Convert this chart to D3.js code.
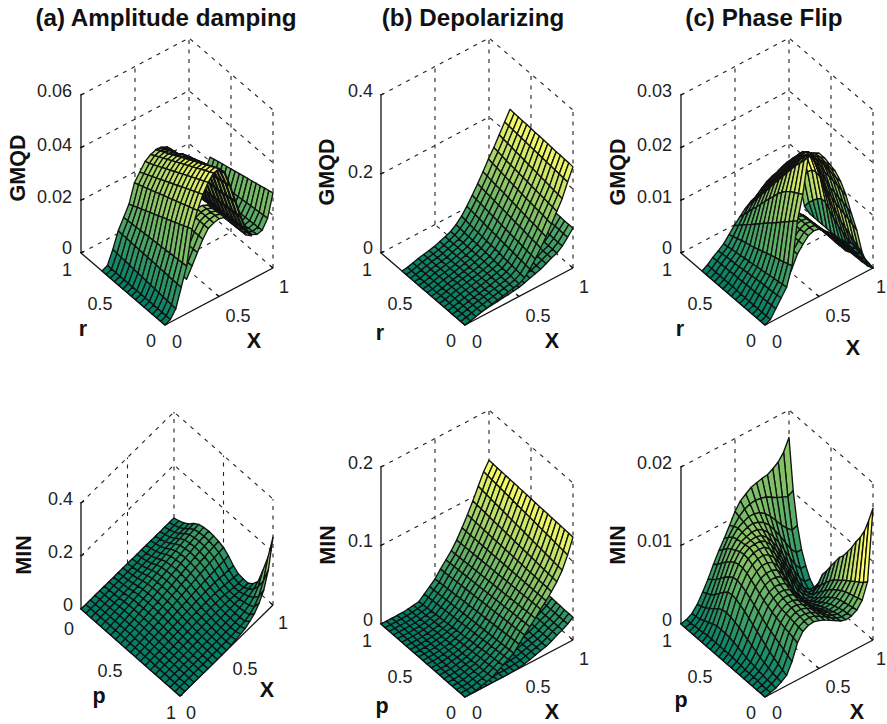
<!DOCTYPE html>
<html>
<head>
<meta charset="utf-8">
<script src="https://cdnjs.cloudflare.com/ajax/libs/d3/7.8.5/d3.min.js"></script>
<style>
  html, body { margin: 0; background: #fff; }
  text { font-family: "Liberation Sans", Arial, sans-serif; fill: #222; }
  .tick { font-size: 18px; }
  .name { font-size: 21.5px; font-weight: bold; fill: #111; }
  .title { font-size: 24.2px; font-weight: bold; fill: #111; }
</style>
</head>
<body>
<svg id="chart" width="887" height="724"></svg>
<script>
// values, rows run along r (or p), columns along X
const xValues = [0,.05,.1,.15,.2,.25,.3,.35,.4,.45,.5,.55,.6,.65,.7,.75,.8,.85,.9,.95,1];
const rValues = [0,.05,.1,.15,.2,.25,.3,.35,.4,.45,.5,.55,.6,.65,.7,.75];
const pValues = [0,.05,.1,.15,.2,.25,.3,.35,.4,.45,.5,.55,.6,.65,.7,.75,.8,.85,.9,.95,1];

const gmqdAmplitude = [
[0,.001,.004,.011,.018,.031,.037,.042,.0455,.048,.0485,.046,.04,.033,.026,.02,.017,.016,.0165,.02,.0285],
[0,.001,.0041,.0111,.0179,.0303,.0363,.0412,.0446,.047,.0476,.0453,.0396,.0327,.0258,.0199,.0168,.0158,.0163,.0198,.028],
[0,.001,.0043,.0111,.0177,.0295,.0357,.0404,.0438,.0462,.0467,.0447,.0392,.0323,.0256,.0197,.0166,.0156,.0162,.0196,.0276],
[0,.001,.0044,.0112,.0176,.0288,.035,.0396,.0429,.0453,.0458,.044,.0388,.032,.0254,.0196,.0164,.0154,.016,.0194,.0271],
[0,.001,.0045,.0113,.0175,.0281,.0343,.0388,.0421,.0444,.0449,.0433,.0384,.0317,.0252,.0195,.0162,.0152,.0159,.0192,.0267],
[0,.001,.0047,.0113,.0173,.0273,.0337,.038,.0412,.0435,.044,.0427,.038,.0317,.025,.0193,.016,.015,.0158,.019,.0262],
[0,.001,.0048,.0114,.0172,.0266,.033,.0372,.0404,.0426,.0432,.042,.0376,.0314,.0248,.0192,.0158,.0148,.0156,.0188,.0258],
[0,.001,.0049,.0115,.0171,.0259,.0323,.0364,.0395,.0417,.0423,.0413,.0372,.0311,.0246,.0191,.0156,.0146,.0155,.0186,.0253],
[0,.001,.0051,.0115,.0169,.0251,.0317,.0356,.0387,.0408,.0414,.0407,.0368,.0309,.0244,.0189,.0154,.0144,.0153,.0184,.0249],
[0,.001,.0052,.0116,.0168,.0244,.031,.0348,.0378,.0399,.0405,.04,.0364,.0306,.0242,.0188,.0152,.0142,.0152,.0182,.0244],
[0,.001,.0053,.0117,.0167,.0237,.0303,.034,.037,.039,.0396,.0393,.036,.0303,.024,.0187,.015,.014,.015,.018,.024],
[0,.001,.0055,.0117,.0165,.0229,.0297,.0332,.0361,.0381,.0387,.0379,.0356,.03,.0238,.0185,.0148,.0138,.0149,.0178,.0235],
[0,.001,.0056,.0118,.0164,.0222,.029,.0324,.0353,.0372,.0378,.0372,.0352,.0298,.0236,.0184,.0146,.0136,.0147,.0176,.0231],
[0,.001,.0057,.0119,.0163,.0215,.0283,.0316,.0344,.0363,.037,.0367,.0348,.0295,.0234,.0183,.0144,.0134,.0144,.0174,.0226],
[0,.001,.0059,.0119,.0161,.0207,.0277,.0308,.0336,.0354,.0361,.0358,.0344,.0292,.0232,.0181,.0142,.0132,.0142,.0172,.0221],
[0,.001,.006,.012,.016,.02,.027,.03,.033,.0345,.0352,.035,.034,.029,.023,.018,.014,.013,.014,.017,.0216]
];
const gmqdAmplitudeLow = [
[0,.001,.004,.01,.013,.017,.021,.025,.028,.029,.0295,.029,.027,.024,.021,.018,.0165,.016,.0163,.02,.0285],
[0,.001,.004,.01,.013,.017,.021,.025,.028,.029,.0294,.0288,.0268,.0238,.0208,.0179,.0164,.0158,.0162,.0198,.028],
[0,.001,.004,.01,.013,.017,.021,.025,.028,.029,.0293,.0286,.0266,.0236,.0206,.0178,.0163,.0156,.016,.0196,.0276],
[0,.001,.004,.01,.013,.017,.021,.025,.028,.029,.0292,.0284,.0264,.0234,.0204,.0177,.0162,.0154,.016,.0194,.0271],
[0,.001,.004,.01,.013,.017,.021,.025,.028,.029,.0291,.0282,.0262,.0232,.0202,.0176,.0161,.0152,.0159,.0192,.0267]
];
const gmqdDepolarizing = [
[0,.003,.007,.011,.014,.017,.02,.023,.026,.029,.032,.04,.055,.073,.094,.115,.14,.165,.19,.225,.256],
[0,.003,.007,.011,.014,.017,.02,.023,.026,.029,.033,.041,.056,.075,.096,.117,.142,.167,.192,.226,.257],
[0,.003,.007,.011,.014,.017,.02,.023,.026,.03,.034,.043,.058,.076,.097,.119,.144,.168,.193,.227,.257],
[0,.003,.007,.011,.014,.017,.02,.023,.027,.03,.035,.044,.059,.078,.099,.121,.146,.17,.195,.228,.258],
[0,.003,.007,.011,.014,.017,.02,.023,.027,.031,.035,.045,.061,.08,.101,.122,.147,.171,.197,.229,.258],
[0,.003,.007,.011,.014,.017,.02,.023,.027,.031,.036,.046,.062,.081,.103,.124,.149,.173,.198,.23,.259],
[0,.003,.007,.011,.014,.017,.02,.023,.027,.031,.037,.048,.064,.083,.104,.126,.15,.174,.2,.231,.26],
[0,.003,.007,.011,.014,.017,.02,.023,.027,.032,.038,.049,.065,.085,.106,.128,.152,.176,.202,.232,.26],
[0,.002,.006,.01,.013,.016,.02,.023,.028,.032,.039,.05,.067,.086,.108,.13,.154,.178,.203,.233,.261],
[0,.002,.006,.01,.013,.016,.02,.024,.028,.033,.04,.051,.068,.088,.11,.132,.156,.179,.205,.234,.261],
[0,.002,.006,.01,.013,.016,.019,.024,.028,.033,.041,.053,.07,.09,.111,.134,.158,.181,.207,.235,.262],
[0,.002,.006,.01,.013,.016,.019,.024,.028,.033,.042,.054,.071,.091,.113,.136,.16,.182,.208,.236,.263],
[0,.002,.006,.01,.013,.016,.019,.024,.029,.034,.042,.055,.073,.093,.115,.137,.162,.184,.21,.237,.263],
[0,.002,.006,.01,.013,.016,.019,.024,.029,.034,.043,.056,.074,.095,.116,.139,.164,.186,.212,.238,.264],
[0,.002,.006,.01,.013,.016,.019,.024,.029,.035,.044,.058,.076,.096,.118,.141,.166,.188,.213,.239,.264],
[0,.002,.006,.01,.013,.016,.019,.024,.029,.035,.045,.059,.077,.098,.12,.143,.168,.19,.215,.24,.265]
];
const gmqdDepolarizingLow = [
[0,.003,.007,.011,.013,.015,.016,.018,.019,.021,.023,.027,.032,.036,.04,.047,.054,.059,.07,.085,.101],
[0,.003,.007,.011,.013,.015,.016,.018,.019,.021,.023,.027,.032,.036,.04,.047,.054,.06,.07,.085,.101],
[0,.003,.007,.011,.013,.015,.016,.018,.02,.022,.024,.027,.032,.037,.041,.047,.054,.06,.071,.086,.101],
[0,.003,.007,.011,.013,.015,.017,.018,.02,.022,.024,.028,.032,.037,.041,.048,.055,.06,.071,.086,.102],
[0,.003,.007,.011,.013,.015,.017,.018,.02,.022,.024,.028,.033,.037,.041,.048,.055,.061,.072,.086,.102]
];
const gmqdPhase = [
[0,.0005,.002,.0035,.005,.0085,.0165,.021,.0275,.0278,.0272,.0258,.024,.0222,.0197,.0165,.0125,.0088,.004,.0012,0],
[0,.0005,.002,.0034,.0049,.0082,.0158,.0205,.0262,.0268,.0265,.0253,.0237,.022,.0197,.0168,.013,.0092,.0045,.0016,0],
[0,.0005,.0019,.0033,.0047,.0079,.015,.02,.025,.0257,.0256,.0248,.0234,.0218,.0198,.017,.0133,.0096,.005,.0019,0],
[0,.0005,.0019,.0032,.0046,.0076,.0143,.0195,.0239,.0246,.0247,.0242,.023,.0217,.0199,.0172,.0135,.0099,.0055,.0023,0],
[0,.0005,.0019,.0032,.0045,.0074,.0135,.0188,.0225,.0233,.0236,.0234,.0228,.0218,.0202,.0174,.0138,.0102,.006,.0026,0],
[0,.0005,.0018,.0031,.0043,.0071,.0128,.018,.0212,.0218,.0222,.0224,.0224,.022,.0205,.0175,.014,.0105,.0065,.003,0],
[0,.0005,.0018,.003,.0042,.0068,.012,.017,.0198,.0205,.021,.0214,.0216,.0216,.0205,.018,.0147,.011,.0072,.0034,0],
[0,.0005,.0018,.0029,.0041,.0065,.0113,.0158,.0184,.0191,.0197,.0203,.0207,.021,.0203,.0184,.0153,.0116,.0079,.0038,0],
[0,.0006,.0017,.0028,.0039,.0062,.0106,.0147,.0171,.0177,.0184,.0191,.0197,.02,.0198,.0186,.016,.0125,.0088,.0045,0],
[0,.0006,.0017,.0027,.0038,.0059,.0098,.0135,.0157,.0164,.0171,.0178,.0184,.019,.0192,.0186,.0165,.0135,.0098,.0053,0],
[0,.0006,.0017,.0026,.0037,.0056,.0091,.0123,.0143,.015,.0157,.0163,.0168,.0175,.018,.0178,.0169,.015,.0115,.0062,0],
[0,.0006,.0016,.0025,.0035,.0054,.0083,.0111,.013,.0136,.0143,.0148,.0153,.016,.0165,.0168,.0165,.0152,.0118,.0062,0],
[0,.0006,.0016,.0025,.0034,.0051,.0076,.01,.0116,.0123,.013,.0136,.014,.0147,.0152,.0156,.0156,.0148,.0115,.0055,0],
[0,.0006,.0016,.0024,.0033,.0048,.0069,.0088,.0102,.0109,.0118,.0124,.0128,.0135,.014,.0144,.0146,.0138,.0105,.0045,0],
[0,.0006,.0015,.0023,.0031,.0045,.0061,.0076,.0089,.0096,.0105,.0112,.0117,.0122,.0128,.0132,.0134,.0122,.009,.0035,0],
[0,.0006,.0015,.0022,.003,.0042,.0054,.0065,.0075,.0083,.0088,.0097,.0105,.011,.0113,.0118,.012,.0108,.0075,.002,0]
];
const gmqdPhaseLow = [
[0,.0005,.002,.0035,.006,.008,.0102,.0115,.0126,.013,.0128,.0117,.0103,.0089,.0074,.006,.0051,.0037,.0023,.001,0],
[0,.0005,.002,.0035,.006,.008,.0102,.0115,.0126,.013,.0128,.0117,.0103,.0089,.0074,.0061,.0051,.0037,.0024,.0011,.0002],
[0,.0005,.002,.0035,.006,.008,.0102,.0115,.0125,.013,.0128,.0117,.0103,.0089,.0075,.0061,.0052,.0038,.0025,.0013,.0004],
[0,.0005,.002,.0035,.006,.008,.0102,.0115,.0125,.0129,.0127,.0116,.0102,.0089,.0075,.0062,.0052,.0039,.0026,.0015,.0007],
[0,.0005,.002,.0035,.006,.008,.0102,.0115,.0125,.0129,.0126,.0116,.0102,.0088,.0075,.0062,.0053,.004,.0028,.0017,.001],
[0,.0005,.002,.0035,.006,.008,.0101,.0114,.0124,.0128,.0125,.0115,.0101,.0088,.0075,.0063,.0054,.0042,.003,.002,.0013]
];

const minAmplitude = [
[0,0,0,0,0,0,0,0,0,0,0,0,0,0,0,0,0,0,0,0,0],
[0,0,.0003,.0005,.0008,.001,.0013,.0016,.0019,.0023,.0026,.003,.0034,.0038,.0042,.0046,.0049,.0052,.0055,.0058,.006],
[0,.0003,.0007,.0013,.0018,.0024,.0031,.0038,.0045,.0053,.0062,.007,.008,.0088,.0098,.0106,.0115,.0122,.0129,.0134,.014],
[0,.0005,.0014,.0024,.0035,.0046,.0059,.0073,.0086,.0103,.0119,.0135,.0154,.017,.0189,.0205,.0221,.0235,.0248,.0259,.027],
[0,.0009,.0023,.0041,.0059,.0077,.0099,.0122,.0144,.0171,.0198,.0225,.0257,.0284,.0315,.0342,.0369,.0392,.0414,.0432,.045],
[0,.0012,.0029,.0052,.0075,.0099,.0128,.0157,.0186,.022,.0255,.029,.0331,.0365,.0406,.0441,.0476,.0505,.0534,.0557,.058],
[0,.0013,.0032,.0057,.0082,.0107,.0139,.017,.0202,.0239,.0277,.0315,.0359,.0397,.0441,.0479,.0517,.0548,.058,.0605,.063],
[0,.0013,.0033,.0059,.0086,.0112,.0145,.0178,.0211,.0251,.029,.033,.0376,.0416,.0462,.0502,.0541,.0574,.0607,.0634,.066],
[0,.0013,.0032,.0058,.0083,.0109,.0141,.0173,.0205,.0243,.0282,.032,.0365,.0403,.0448,.0486,.0525,.0557,.0589,.0614,.064],
[0,.0012,.003,.0054,.0078,.0102,.0132,.0162,.0192,.0228,.0264,.03,.0342,.0378,.042,.0456,.0492,.0522,.0552,.0576,.06],
[0,.0012,.0028,.005,.0072,.0094,.0121,.0148,.0172,.0203,.0233,.0265,.03,.033,.0365,.0395,.0425,.0455,.048,.0505,.053],
[0,.001,.0024,.0042,.006,.0078,.01,.0122,.0142,.0167,.019,.0213,.024,.0262,.0285,.03,.0315,.033,.0345,.036,.038],
[0,.0008,.002,.0035,.005,.0063,.0081,.01,.0115,.0135,.0155,.0172,.019,.0205,.0215,.0222,.0222,.021,.0195,.018,.017],
[0,.0006,.0015,.0027,.0038,.005,.0063,.0077,.009,.0105,.012,.013,.014,.0148,.0152,.0148,.013,.011,.008,.005,.003],
[0,.0004,.001,.002,.0028,.0037,.0047,.0058,.0068,.0078,.0088,.0098,.0105,.011,.0112,.0105,.0085,.006,.0032,.001,0],
[0,.0003,.0007,.0014,.002,.0027,.0034,.0042,.005,.0057,.0064,.007,.0075,.0078,.0078,.0072,.0062,.0048,.003,.0012,.0002],
[0,.0002,.0004,.0009,.0013,.0018,.0023,.0028,.0033,.0038,.0042,.0047,.005,.0054,.0058,.0062,.0068,.0078,.0095,.012,.015],
[0,.0001,.0002,.0005,.0008,.0011,.0014,.0018,.0021,.0024,.0027,.003,.0034,.004,.0048,.006,.0085,.012,.018,.027,.04],
[0,0,.0001,.0002,.0004,.0006,.0008,.001,.0012,.0014,.0016,.002,.0027,.0035,.0048,.007,.011,.018,.03,.055,.1],
[0,0,0,.0001,.0002,.0003,.0004,.0005,.0006,.0008,.001,.0015,.0024,.0038,.0056,.0085,.015,.028,.05,.09,.165],
[0,0,0,0,0,0,0,0,0,0,.0005,.003,.006,.01,.014,.024,.036,.058,.09,.15,.256]
];
const minDepolarizing = [
[0,.0005,.001,.003,.005,.007,.011,.015,.019,.023,.031,.039,.046,.053,.061,.068,.076,.085,.096,.112,.131],
[0,.0005,.001,.0029,.0048,.0068,.0105,.0144,.0185,.0227,.0305,.0386,.0456,.0527,.0608,.068,.0767,.0857,.0967,.1127,.1313],
[0,.0005,.0009,.0027,.0045,.0064,.0101,.0138,.018,.0222,.03,.0381,.0452,.0523,.0605,.068,.0765,.086,.0974,.1133,.1315],
[0,.0004,.0009,.0026,.0043,.0061,.0096,.0132,.0175,.0219,.0295,.0377,.0448,.052,.0603,.068,.0768,.0864,.0981,.1139,.1318],
[0,.0004,.0008,.0024,.0041,.0058,.0092,.0126,.017,.0214,.029,.0372,.0444,.0516,.06,.068,.077,.0868,.0988,.1146,.132],
[0,.0004,.0008,.0023,.0038,.0055,.0087,.012,.0165,.021,.0285,.0368,.044,.0513,.0598,.068,.0773,.0875,.0995,.1153,.1323],
[0,.0004,.0007,.0021,.0036,.0052,.0083,.0114,.016,.0205,.028,.0363,.0436,.0509,.0595,.068,.0775,.088,.1002,.116,.1325],
[0,.0003,.0007,.002,.0034,.0049,.0078,.0108,.0155,.0201,.0275,.0359,.0432,.0506,.0593,.068,.0778,.0885,.1009,.1166,.1328],
[0,.0003,.0006,.0018,.0031,.0046,.0074,.0102,.015,.0198,.027,.0354,.0428,.0503,.059,.068,.078,.089,.1016,.1173,.133],
[0,.0003,.0006,.0017,.0029,.0043,.0069,.0096,.0145,.0193,.0265,.035,.0424,.0499,.0588,.068,.0783,.0895,.1023,.118,.1333],
[0,.0003,.0005,.0015,.0026,.004,.0065,.009,.014,.019,.026,.0345,.042,.0495,.0585,.068,.0785,.09,.103,.1185,.1335],
[0,.0002,.0005,.0014,.0024,.0037,.006,.0084,.0135,.0185,.0255,.0341,.0416,.0492,.0583,.068,.0788,.0905,.1037,.1192,.1338],
[0,.0002,.0004,.0012,.0022,.0034,.0056,.0078,.013,.0181,.025,.0336,.0412,.0489,.058,.068,.079,.091,.1044,.1198,.134],
[0,.0002,.0004,.0011,.0019,.0031,.0051,.0072,.0125,.0177,.0245,.0332,.0408,.0485,.0578,.068,.0793,.0915,.1051,.1205,.1343],
[0,.0002,.0003,.0009,.0017,.0028,.0047,.0066,.012,.0173,.024,.0327,.0404,.0482,.0575,.068,.0795,.092,.1058,.1213,.1345],
[0,.0001,.0003,.0008,.0015,.0025,.0042,.006,.0115,.0169,.0235,.0323,.04,.0478,.0573,.068,.0798,.0925,.1065,.1219,.1348],
[0,.0001,.0002,.0006,.0012,.0022,.0038,.0054,.011,.0165,.023,.0318,.0396,.0474,.057,.068,.08,.093,.1072,.1225,.135],
[0,.0001,.0002,.0005,.001,.0019,.0033,.0048,.0105,.0159,.0225,.0314,.0392,.0471,.0568,.068,.0803,.0935,.1079,.1232,.1353],
[0,.0001,.0001,.0003,.0007,.0016,.0029,.0042,.01,.0156,.022,.0309,.0388,.0467,.0565,.068,.0805,.094,.1086,.1238,.1355],
[0,0,.0001,.0002,.0005,.0013,.0024,.0036,.0095,.0153,.0215,.0305,.0384,.0464,.0563,.068,.0808,.0945,.1093,.1244,.1358],
[0,0,0,0,.0002,.001,.002,.003,.009,.015,.021,.03,.038,.046,.056,.068,.081,.095,.11,.125,.136]
];
const minDepolarizingLow = [
[0,0,0,0,0,0,0,0,0,.0005,.001,.002,.004,.006,.008,.01,.013,.017,.02,.024,.029],
[0,0,0,0,0,0,0,0,0,.0005,.001,.002,.004,.006,.008,.01,.013,.017,.02,.024,.029],
[0,0,0,0,0,0,0,0,0,.0005,.001,.002,.004,.006,.008,.01,.013,.017,.02,.024,.029],
[0,0,0,0,0,0,0,0,0,.0005,.001,.002,.004,.006,.008,.01,.013,.017,.02,.024,.0295],
[0,0,0,0,0,0,0,0,0,.0005,.001,.002,.004,.006,.008,.01,.013,.017,.02,.024,.0295],
[0,0,0,0,0,0,0,0,0,.0005,.001,.002,.004,.006,.008,.01,.013,.017,.02,.024,.03],
[0,0,0,0,0,0,0,0,0,.0005,.001,.002,.004,.006,.008,.01,.013,.017,.02,.024,.03]
];
const minPhase = [
[0,.0002,.0004,.0008,.0013,.0027,.0047,.0058,.0062,.0063,.0061,.0058,.0054,.005,.0046,.0044,.0045,.0049,.0058,.0078,.0168],
[0,.0002,.0005,.0009,.0015,.003,.0049,.0059,.0063,.0064,.0062,.0058,.0054,.0049,.0045,.0043,.0044,.0048,.0056,.0072,.0148],
[0,.0002,.0005,.001,.0018,.0033,.0051,.006,.0064,.0064,.0062,.0058,.0053,.0048,.0044,.0042,.0043,.0046,.0054,.0068,.013],
[0,.0003,.0006,.0012,.0021,.0036,.0052,.0061,.0065,.0065,.0063,.0058,.0052,.0047,.0043,.004,.0041,.0045,.0052,.0064,.0117],
[0,.0003,.0007,.0014,.0024,.0039,.0054,.0062,.0066,.0066,.0063,.0058,.0051,.0045,.0041,.0038,.0039,.0043,.005,.006,.0107],
[0,.0003,.0008,.0016,.0028,.0042,.0056,.0063,.0067,.0067,.0064,.0058,.005,.0043,.0038,.0036,.0037,.0041,.0047,.0056,.0095],
[0,.0003,.0009,.0019,.0032,.0045,.0058,.0065,.0069,.0069,.0066,.0058,.0049,.0041,.0035,.0033,.0034,.0037,.0043,.0052,.0085],
[0,.0004,.001,.0022,.0036,.0049,.0061,.0068,.0071,.0071,.0068,.0059,.0049,.004,.0033,.003,.003,.0033,.0039,.0047,.0075],
[0,.0004,.0012,.0025,.004,.0053,.0064,.0071,.0074,.0074,.0071,.0062,.005,.0039,.0031,.0027,.0026,.0028,.0034,.0043,.0068],
[0,.0005,.0014,.0028,.0044,.0057,.0068,.0075,.0078,.0078,.0075,.0066,.0053,.004,.003,.0024,.0022,.0023,.0028,.0037,.0058],
[0,.0005,.0016,.0031,.0048,.0061,.0072,.0079,.0082,.0082,.0079,.007,.0056,.0042,.003,.0022,.0018,.0018,.0022,.003,.0048],
[0,.0005,.0017,.0033,.0051,.0065,.0076,.0083,.0087,.0087,.0084,.0075,.0062,.0047,.0033,.0023,.0016,.0014,.0016,.0023,.0037],
[0,.0005,.0018,.0035,.0054,.0068,.008,.0087,.0091,.0092,.0089,.0082,.0071,.0058,.0044,.003,.0019,.0012,.001,.0015,.0028],
[0,.0005,.0018,.0036,.0055,.007,.0082,.009,.0094,.0095,.0094,.0088,.0078,.0066,.0052,.0038,.0025,.0014,.0007,.0006,.0012],
[0,.0005,.0018,.0035,.0054,.0069,.0082,.0091,.0096,.0097,.0097,.0093,.0085,.0074,.0061,.0047,.0033,.002,.0009,.0003,.0002],
[0,.0005,.0016,.0032,.0049,.0065,.008,.009,.0095,.0097,.0098,.0096,.009,.0081,.007,.0057,.0043,.003,.0017,.0008,.0008],
[0,.0004,.0013,.0027,.0043,.006,.0076,.0087,.0094,.0097,.0099,.0099,.0095,.0088,.0079,.0068,.0055,.0042,.0029,.002,.002],
[0,.0003,.0011,.0023,.0037,.0054,.0071,.0084,.0093,.0098,.0101,.0102,.01,.0096,.0089,.0079,.0068,.0056,.0044,.0036,.0036],
[0,.0003,.0008,.0019,.0032,.0048,.0065,.008,.0091,.0099,.0103,.0106,.0106,.0104,.0099,.0092,.0083,.0074,.0066,.006,.0062],
[0,.0002,.0007,.0016,.0029,.0043,.0059,.0074,.0086,.0096,.0105,.0111,.0114,.0115,.0114,.0112,.0108,.0104,.0101,.0098,.0102],
[0,.0002,.0006,.0014,.0026,.0039,.0054,.0068,.008,.0093,.0107,.0117,.0122,.0127,.0129,.0131,.0132,.0136,.0141,.015,.0165]
];
// colour limits of minPhase: the back corner stays green although it is as high as the yellow
// corner, and the right-hand lobe turns yellow at much lower heights
const minPhaseRowColorMax = [.0168,.0168,.0168,.0168,.0168,.0168,.0168,.0168,.0168,.0168,.0168,.0168,.0168,.0168,.0168,.0168,.018,.02,.022,.024,.026];
const minPhaseLobeColorMax = [.0145,.0125,.0115,.0105,.0105,.0105];

const axisTicks = [0, .5, 1];
const axisTickLabels = ['0', '0.5', '1'];

const panels = [
  { title: '(a) Amplitude damping', titleX: 166, zName: 'GMQD', zNameAt: [17, 168], rName: 'r', rNameAt: [83, 328], xNameAt: [254, 340],
    front: [165, 325], right: [273, 268], left: [81, 253], zMax: .06, zPx: 158, rDomain: [0, 1],
    zTicks: [0, .02, .04, .06], zLabels: ['0', '0.02', '0.04', '0.06'], zLabelX: 72, zLabelY: [248, 197, 145, 91],
    rLabelAt: [[151, 341], [100, 304], [67, 270]], xLabelAt: [[177, 342], [238, 316], [284, 287]],
    layers: [
      { grid: gmqdAmplitude, rows: rValues, from: 16, to: 20, cmax: .05 },
      { grid: gmqdAmplitude, rows: rValues, from: 10, to: 16, cmax: .05, width: 2.2 },
      { grid: gmqdAmplitudeLow, rows: rValues, from: 4, to: 16, cmax: .05 },
      { grid: gmqdAmplitude, rows: rValues, from: 0, to: 10, cmax: .05 }
    ] },
  { title: '(b) Depolarizing', titleX: 473, zName: 'GMQD', zNameAt: [326, 172], rName: 'r', rNameAt: [380, 332], xNameAt: [552, 340],
    front: [465, 325], right: [573, 268], left: [381, 253], zMax: .4, zPx: 158, rDomain: [0, 1],
    zTicks: [0, .2, .4], zLabels: ['0', '0.2', '0.4'], zLabelX: 373, zLabelY: [248, 172, 91],
    rLabelAt: [[451, 341], [400, 304], [367, 270]], xLabelAt: [[477, 342], [538, 316], [584, 287]],
    layers: [
      { grid: gmqdDepolarizingLow, rows: rValues, from: 0, to: 20, cmax: .265 },
      { grid: gmqdDepolarizing, rows: rValues, from: 0, to: 20, cmax: .265 }
    ] },
  { title: '(c) Phase Flip', titleX: 764, zName: 'GMQD', zNameAt: [617, 172], rName: 'r', rNameAt: [680, 328], xNameAt: [853, 347],
    front: [765, 325], right: [873, 268], left: [681, 253], zMax: .03, zPx: 158, rDomain: [0, 1],
    zTicks: [0, .01, .02, .03], zLabels: ['0', '0.01', '0.02', '0.03'], zLabelX: 672, zLabelY: [248, 197, 145, 91],
    rLabelAt: [[751, 341], [700, 304], [667, 270]], xLabelAt: [[777, 342], [838, 316], [881, 287]],
    layers: [
      // the far slope keeps a mid green down to the floor
      { grid: gmqdPhase, rows: rValues, from: 8, to: 20, cmax: (i, j) => j >= 17 ? .011 : .0278 },
      { grid: gmqdPhaseLow, rows: rValues, from: 12, to: 20, cmax: .0278, width: 1.8 },
      { grid: gmqdPhaseLow, rows: rValues, from: 4, to: 12, cmax: .0278 },
      { grid: gmqdPhase, rows: rValues, from: 0, to: 8, cmax: .0278 }
    ] },
  { zName: 'MIN', zNameAt: [23, 555], rName: 'p', rNameAt: [99, 695], xNameAt: [267, 689],
    front: [180, 696], right: [273, 605], left: [81, 609], zMax: .4, zPx: 106, rDomain: [1, 0],
    zTicks: [0, .2, .4], zLabels: ['0', '0.2', '0.4'], zLabelX: 73, zLabelY: [605, 552, 499],
    rLabelAt: [[69, 629], [110, 671], [171, 713]], xLabelAt: [[191, 713], [245, 669], [283, 623]],
    layers: [{ grid: minAmplitude, rows: pValues, from: 0, to: 20, cmax: .256 }] },
  { zName: 'MIN', zNameAt: [327, 545], rName: 'p', rNameAt: [382, 705], xNameAt: [552, 711],
    front: [465, 697], right: [573, 640], left: [381, 624], zMax: .2, zPx: 157, rDomain: [0, 1],
    zTicks: [0, .1, .2], zLabels: ['0', '0.1', '0.2'], zLabelX: 373, zLabelY: [620, 541, 463],
    rLabelAt: [[451, 713], [400, 677], [367, 641]], xLabelAt: [[477, 713], [538, 687], [584, 659]],
    layers: [
      { grid: minDepolarizingLow, rows: pValues, from: 0, to: 20, cmax: .136 },
      { grid: minDepolarizing, rows: pValues, from: 0, to: 20, cmax: .136 }
    ] },
  { zName: 'MIN', zNameAt: [617, 545], rName: 'p', rNameAt: [681, 699], xNameAt: [857, 711],
    front: [765, 697], right: [873, 640], left: [681, 624], zMax: .02, zPx: 157, rDomain: [0, 1],
    zTicks: [0, .01, .02], zLabels: ['0', '0.01', '0.02'], zLabelX: 672, zLabelY: [620, 541, 463],
    rLabelAt: [[751, 713], [700, 677], [667, 641]], xLabelAt: [[777, 713], [838, 687], [881, 659]],
    layers: [{ grid: minPhase, rows: pValues, from: 0, to: 20,
      cmax: (i, j) => (j >= 15 && i < 13) ? minPhaseLobeColorMax[j - 15] : minPhaseRowColorMax[i] }] }
];

const svg = d3.select('#chart');
const summer = d3.scaleLinear().domain([0, 1]).range(['#008066', '#ffff66']).clamp(true);

function drawPanel(panel) {
  const g = svg.append('g');
  const [fx, fy] = panel.front;

  const xAlongX = d3.scaleLinear().domain([0, 1]).range([0, panel.right[0] - fx]);
  const yAlongX = d3.scaleLinear().domain([0, 1]).range([0, panel.right[1] - fy]);
  const xAlongR = d3.scaleLinear().domain(panel.rDomain).range([0, panel.left[0] - fx]);
  const yAlongR = d3.scaleLinear().domain(panel.rDomain).range([0, panel.left[1] - fy]);
  const zUp = d3.scaleLinear().domain([0, panel.zMax]).range([0, panel.zPx]);
  const project = (x, r, z) => [fx + xAlongX(x) + xAlongR(r), fy + yAlongX(x) + yAlongR(r) - zUp(z)];
  const line = d3.line();

  const rNear = panel.rDomain[0], rFar = panel.rDomain[1];

  // dashed box behind the surface
  const dashed = [];
  panel.zTicks.forEach(z => dashed.push([project(0, rFar, z), project(1, rFar, z), project(1, rNear, z)]));
  [.5, 1].forEach(x => dashed.push([project(x, rFar, 0), project(x, rFar, panel.zMax)]));
  [.5, rNear].forEach(r => dashed.push([project(1, r, 0), project(1, r, panel.zMax)]));
  dashed.push([project(.5, rNear, 0), project(.5, rFar, 0)]);
  dashed.push([project(0, .5, 0), project(1, .5, 0)]);
  g.append('g').selectAll('path').data(dashed).join('path')
    .attr('d', d => line(d))
    .attr('fill', 'none')
    .attr('stroke', '#222')
    .attr('stroke-width', 1.1)
    .attr('stroke-dasharray', '4 5.5');

  // solid axes
  const solid = [
    [project(0, rNear, 0), project(1, rNear, 0)],
    [project(0, rNear, 0), project(0, rFar, 0)],
    [project(0, rFar, 0), project(0, rFar, panel.zMax)]
  ];
  panel.zTicks.forEach(z => {
    const p = project(0, rFar, z);
    solid.push([[p[0] - 1, p[1]], [p[0] + 3, p[1] - 1.5]]);
  });
  axisTicks.forEach(t => {
    const a = project(t, rNear, 0), b = project(0, t, 0);
    solid.push([a, [a[0] - 2.5, a[1] - 2]]);
    solid.push([b, [b[0] + 2.5, b[1] - 1.3]]);
  });
  g.append('g').selectAll('path').data(solid).join('path')
    .attr('d', d => line(d))
    .attr('fill', 'none')
    .attr('stroke', '#111')
    .attr('stroke-width', 1.3);

  // surface: far cells first
  panel.layers.forEach(layer => {
    const rowOrder = d3.range(layer.grid.length - 1)
      .sort((a, b) => d3.ascending(xAlongR(layer.rows[a]), xAlongR(layer.rows[b])));
    const cells = [];
    rowOrder.forEach(i => {
      for (let j = layer.to - 1; j >= layer.from; j--) {
        const corners = [[i, j], [i + 1, j], [i + 1, j + 1], [i, j + 1]];
        const mean = d3.mean(corners, c => layer.grid[c[0]][c[1]]);
        const cmax = typeof layer.cmax === 'function' ? layer.cmax(i, j) : layer.cmax;
        cells.push({
          pts: corners.map(c => project(xValues[c[1]], layer.rows[c[0]], layer.grid[c[0]][c[1]])),
          t: mean / cmax
        });
      }
    });
    g.append('g').selectAll('path').data(cells).join('path')
      .attr('d', d => line(d.pts) + 'Z')
      .attr('fill', d => summer(d.t))
      .attr('stroke', '#111')
      .attr('stroke-width', layer.width || 1.35)
      .attr('stroke-linejoin', 'round');
  });

  // text
  const put = (at, s, cls, anchor) => g.append('text')
    .attr('class', cls)
    .attr('x', at[0]).attr('y', at[1])
    .attr('dy', '.36em')
    .attr('text-anchor', anchor || 'middle')
    .text(s);

  panel.zLabels.forEach((s, i) => put([panel.zLabelX, panel.zLabelY[i]], s, 'tick', 'end'));
  axisTickLabels.forEach((s, i) => {
    put(panel.rLabelAt[i], s, 'tick');
    put(panel.xLabelAt[i], s, 'tick');
  });
  put(panel.rNameAt, panel.rName, 'name');
  put(panel.xNameAt, 'X', 'name');
  g.append('text')
    .attr('class', 'name')
    .attr('transform', `translate(${panel.zNameAt[0]},${panel.zNameAt[1]}) rotate(-90)`)
    .attr('dy', '.36em')
    .attr('text-anchor', 'middle')
    .text(panel.zName);
  if (panel.title) {
    g.append('text').attr('class', 'title')
      .attr('x', panel.titleX).attr('y', 26)
      .attr('text-anchor', 'middle')
      .text(panel.title);
  }
}

panels.forEach(drawPanel);
</script>
</body>
</html>
